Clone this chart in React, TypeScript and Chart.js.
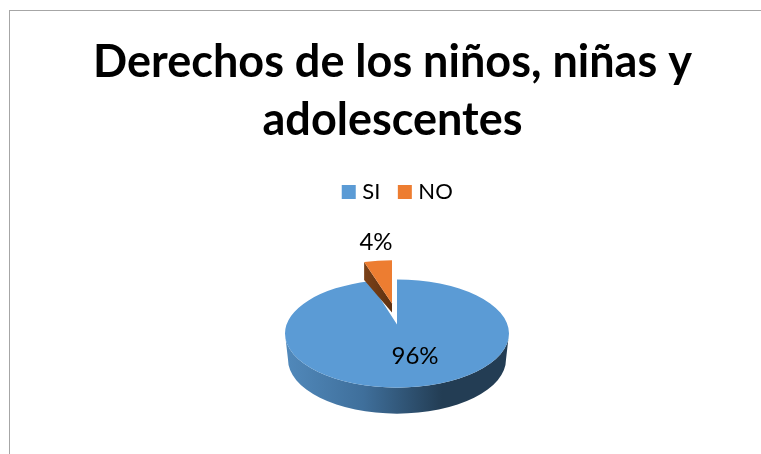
import React, { useEffect, useRef } from "react";
import { Chart, registerables } from "chart.js";

Chart.register(...registerables);

const titleLines = ["Derechos de los niños, niñas y", "adolescentes"];
const categories = ["SI", "NO"];
const values = [96, 4];
const sliceColors = ["#5b9bd5", "#ed7d31"];
const sliceOffsets = [0, 40];

const FONT = "Lato, Carlito, 'Open Sans', sans-serif";
const TILT = 0.483;
const DEPTH = 26;
const BOTTOM_INSET = 3;
const labelShift = [[18, 23], [-21, -91]];
const apexLift = [9, 11];

const pie3d = {
  id: "pie3d",
  afterLayout(chart: any) {
    chart.titleBlock.left -= 4.5;
    chart.titleBlock.right -= 4.5;
    chart.legend.left += 2.5;
    chart.legend.right += 2.5;
  },
  beforeDatasetDraw(chart: any, args: any) {
    const ctx = chart.ctx;
    const arcs = args.meta.data;
    const { x: cx, y: cy, outerRadius: rx } = arcs[0];
    const ry = rx * TILT;
    ctx.save();

    // side wall of the main slice
    const grad = ctx.createLinearGradient(cx - rx, 0, cx + 45, 0);
    grad.addColorStop(0, "#5189bb");
    grad.addColorStop(0.5, "#3f6f9b");
    grad.addColorStop(1, "#233d54");
    const rb = rx - BOTTOM_INSET;
    ctx.beginPath();
    ctx.moveTo(cx - rx, cy);
    ctx.ellipse(cx, cy, rx, ry, 0, Math.PI, 0, true);
    ctx.lineTo(cx + rb, cy + DEPTH);
    ctx.ellipse(cx, cy + DEPTH, rb, ry, 0, 0, Math.PI, false);
    ctx.closePath();
    ctx.fillStyle = grad;
    ctx.fill();

    arcs.forEach((arc: any, i: number) => {
      const { startAngle, endAngle } = arc;
      const mid = (startAngle + endAngle) / 2;
      const o = arc.options.offset || 0;
      const dx = Math.cos(mid) * o;
      const dy = Math.sin(mid) * o * TILT;
      const ax = cx + dx;
      const ay = cy + dy - apexLift[i];
      const ex = cx + dx;
      const ey = cy + dy;

      if (o > 0) {
        // cut face of the pulled-out slice
        const lx = ex + rx * Math.cos(startAngle);
        const ly = ey + ry * Math.sin(startAngle);
        ctx.beginPath();
        ctx.moveTo(lx, ly);
        ctx.lineTo(lx, ly + 18);
        ctx.lineTo(ax, ay + 9);
        ctx.lineTo(ax, ay);
        ctx.closePath();
        const g2 = ctx.createLinearGradient(lx, 0, ax, 0);
        g2.addColorStop(0, "#7a4118");
        g2.addColorStop(1, "#5f3010");
        ctx.fillStyle = g2;
        ctx.fill();
      }

      ctx.beginPath();
      ctx.moveTo(ax, ay);
      ctx.ellipse(ex, ey, rx, ry, 0, startAngle, endAngle, false);
      ctx.closePath();
      ctx.fillStyle = arc.options.backgroundColor;
      ctx.fill();
    });
    ctx.restore();
    return false;
  },
  afterDatasetsDraw(chart: any) {
    const ctx = chart.ctx;
    const arcs = chart.getDatasetMeta(0).data;
    ctx.save();
    ctx.font = `24px ${FONT}`;
    ctx.fillStyle = "#000000";
    ctx.textAlign = "center";
    ctx.textBaseline = "middle";
    arcs.forEach((arc: any, i: number) => {
      ctx.fillText(`${values[i]}%`, arc.x + labelShift[i][0], arc.y + labelShift[i][1]);
    });
    ctx.restore();
  },
};

export default function App() {
  const ref = useRef<HTMLCanvasElement>(null);
  useEffect(() => {
    document.body.style.margin = "0";
    const chart = new Chart(ref.current!, {
      type: "pie",
      data: {
        labels: categories,
        datasets: [
          {
            data: values,
            backgroundColor: sliceColors,
            borderWidth: 0,
            offset: sliceOffsets,
            radius: 112,
          } as any,
        ],
      },
      plugins: [pie3d],
      options: {
        responsive: false,
        animation: false,
        layout: { padding: { left: 33, bottom: 0 } },
        plugins: {
          title: {
            display: true,
            text: titleLines,
            color: "#000000",
            font: { family: FONT, size: 45, weight: "bold", lineHeight: 1.29 },
            padding: { top: 33, bottom: 10 },
          },
          legend: {
            display: true,
            position: "top",
            labels: {
              boxWidth: 5,
              boxHeight: 5,
              padding: 22,
              color: "#000000",
              font: { family: FONT, size: 22 },
              generateLabels(chart: any) {
                const items = (Chart as any).overrides.pie.plugins.legend.labels.generateLabels(chart);
                return items.map((it: any) => ({ ...it, strokeStyle: it.fillStyle, lineWidth: 9 }));
              },
            },
          },
          tooltip: { enabled: false },
        },
      },
    } as any);
    return () => chart.destroy();
  }, []);
  return (
    <div style={{ position: "relative", width: 761, height: 454, overflow: "hidden", background: "#fff" }}>
      <div
        style={{
          position: "absolute",
          left: 9,
          top: 10,
          right: 0,
          bottom: 0,
          borderLeft: "1px solid #a6a6a6",
          borderTop: "1px solid #a6a6a6",
        }}
      />
      <canvas ref={ref} width={761} height={454} style={{ position: "absolute", left: 0, top: 0, display: "block" }} />
    </div>
  );
}
